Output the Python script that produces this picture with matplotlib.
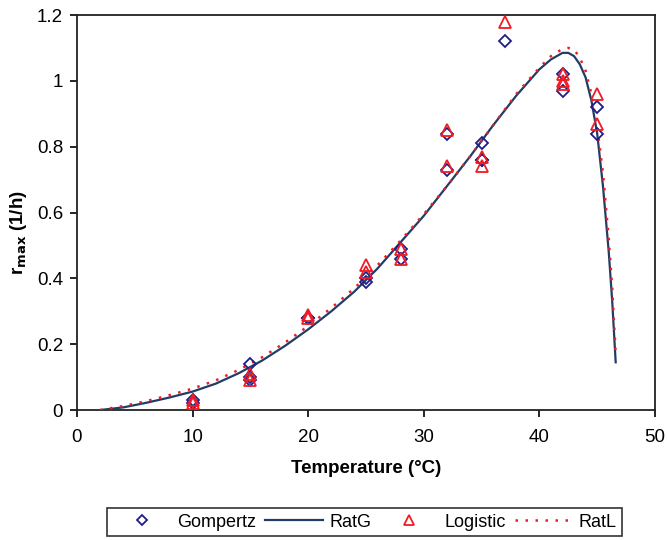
import matplotlib
matplotlib.use("Agg")
import matplotlib.pyplot as plt

plt.rcParams['font.family'] = ['Liberation Sans', 'DejaVu Sans']

# Observed data
gomp_T = [10, 10, 15, 15, 15, 20, 20, 25, 25, 28, 28, 32, 32, 35, 35, 35, 37, 42, 42, 45, 45]
gomp_r = [0.03, 0.02, 0.14, 0.10, 0.09, 0.28, 0.28, 0.39, 0.40, 0.49, 0.46, 0.84, 0.73,
          0.81, 0.76, 0.76, 1.12, 1.02, 0.97, 0.92, 0.84]
logi_T = [10, 10, 15, 15, 20, 20, 25, 25, 28, 28, 32, 32, 35, 35, 37, 42, 42, 42, 45, 45]
logi_r = [0.03, 0.02, 0.11, 0.09, 0.29, 0.28, 0.44, 0.42, 0.49, 0.46, 0.85, 0.74,
          0.77, 0.74, 1.18, 1.02, 1.00, 0.99, 0.96, 0.87]

# Fitted curves
ratg_T = [2, 4, 6, 8, 10, 12, 14, 16, 18, 20, 22, 24, 26, 28, 30, 32, 34, 36, 38, 40,
          41, 42, 42.5, 43, 43.5, 44, 44.5, 45, 45.5, 46, 46.3, 46.6]
ratg_r = [0, 0.008, 0.022, 0.038, 0.056, 0.08, 0.112, 0.15, 0.195, 0.245, 0.30, 0.36,
          0.43, 0.51, 0.59, 0.68, 0.77, 0.865, 0.955, 1.035, 1.065, 1.085, 1.085, 1.075,
          1.05, 1.01, 0.94, 0.84, 0.68, 0.48, 0.33, 0.145]
ratl_T = [2, 4, 6, 8, 10, 12, 14, 16, 18, 20, 22, 24, 26, 28, 30, 32, 34, 36, 38, 40,
          41, 42, 42.5, 43, 43.5, 44, 44.5, 45, 45.5, 46, 46.3, 46.6]
ratl_r = [0, 0.012, 0.027, 0.045, 0.065, 0.09, 0.122, 0.16, 0.205, 0.255, 0.31, 0.37,
          0.44, 0.515, 0.595, 0.68, 0.77, 0.865, 0.96, 1.04, 1.075, 1.097, 1.10, 1.095,
          1.07, 1.03, 0.96, 0.86, 0.72, 0.52, 0.37, 0.17]

xticks = [0, 10, 20, 30, 40, 50]
yticks = [0, 0.2, 0.4, 0.6, 0.8, 1.0, 1.2]
yticklabels = ['0', '0.2', '0.4', '0.6', '0.8', '1', '1.2']

fig = plt.figure(figsize=(6.67, 5.4), dpi=100)
ax = fig.add_axes([0.1154, 0.2407, 0.8666, 0.7315])

navy = '#1c1c8a'
lineblue = '#1f3d66'
red = '#ee1c24'

ax.plot(gomp_T, gomp_r, linestyle='none', marker='D', markersize=6,
        markerfacecolor='none', markeredgecolor=navy, markeredgewidth=1.3, label='Gompertz', zorder=4)
ax.plot(ratg_T, ratg_r, color=lineblue, linewidth=1.6, label='RatG', zorder=3)
ax.plot(logi_T, logi_r, linestyle='none', marker='^', markersize=8,
        markerfacecolor='none', markeredgecolor=red, markeredgewidth=1.3, label='Logistic', zorder=4)
ax.plot(ratl_T, ratl_r, color=red, linewidth=1.8, linestyle=(0, (1, 3)), label='RatL', zorder=3)

ax.set_xlim(0, 50)
ax.set_ylim(0, 1.2)
ax.set_xticks(xticks)
ax.set_yticks(yticks)
ax.set_yticklabels(yticklabels)
ax.tick_params(axis='both', direction='out', length=5, width=1.2, labelsize=13.5, pad=5)
ax.tick_params(axis='x', pad=9)
for s in ax.spines.values():
    s.set_linewidth(1.3)
    s.set_color('#222222')

ax.set_xlabel('Temperature (°C)', fontsize=13.5, fontweight='bold', labelpad=10)
ax.set_ylabel(r'r$_{\mathbf{max}}$ (1/h)', fontsize=13.5, fontweight='bold')
ax.yaxis.set_label_coords(-0.083, 0.45)

leg = ax.legend(loc='center', bbox_to_anchor=(0.498, -0.284), ncol=4, frameon=True,
                fancybox=False, edgecolor='black', fontsize=13, handlelength=3.2,
                columnspacing=0.5, handletextpad=0.35, borderpad=0.3, markerscale=0.85)
leg.get_frame().set_linewidth(1.2)

fig.savefig('out.png', dpi=100)
